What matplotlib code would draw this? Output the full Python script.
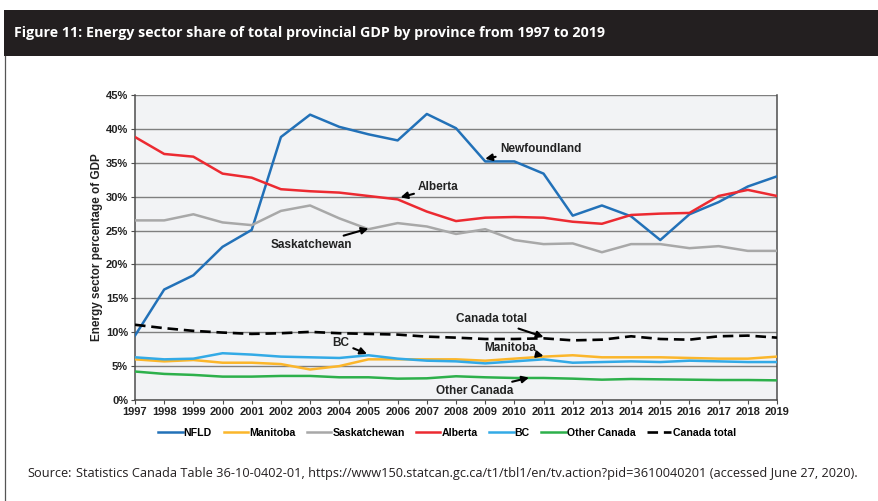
import matplotlib
matplotlib.use('Agg')
import matplotlib.pyplot as plt
from matplotlib.patches import Rectangle
from matplotlib.lines import Line2D

# Energy sector share of provincial GDP (%)
years = list(range(1997, 2020))
nfld = [9.5, 16.3, 18.4, 22.6, 25.1, 38.8, 42.1, 40.3, 39.2, 38.3, 42.2, 40.1,
        35.2, 35.2, 33.4, 27.2, 28.7, 27.1, 23.6, 27.4, 29.2, 31.5, 33.0]
manitoba = [6.0, 5.7, 5.9, 5.5, 5.5, 5.3, 4.5, 5.0, 6.0, 6.0, 6.0, 6.0,
            5.8, 6.1, 6.4, 6.6, 6.3, 6.3, 6.3, 6.2, 6.1, 6.1, 6.4]
saskatchewan = [26.5, 26.5, 27.4, 26.2, 25.8, 27.9, 28.7, 26.8, 25.2, 26.1, 25.6, 24.5,
                25.2, 23.6, 23.0, 23.1, 21.8, 23.0, 23.0, 22.4, 22.7, 22.0, 22.0]
alberta = [38.8, 36.3, 35.9, 33.4, 32.8, 31.1, 30.8, 30.6, 30.1, 29.6, 27.8, 26.4,
           26.9, 27.0, 26.9, 26.3, 26.0, 27.3, 27.5, 27.6, 30.1, 31.0, 30.1]
bc = [6.3, 6.0, 6.1, 6.9, 6.7, 6.4, 6.3, 6.2, 6.6, 6.1, 5.8, 5.7,
      5.4, 5.7, 6.0, 5.5, 5.6, 5.7, 5.6, 5.8, 5.7, 5.6, 5.6]
other_canada = [4.2, 3.85, 3.7, 3.45, 3.45, 3.55, 3.55, 3.35, 3.35, 3.15, 3.2, 3.5,
                3.35, 3.25, 3.25, 3.15, 3.0, 3.1, 3.05, 3.0, 2.95, 2.95, 2.9]
canada_total = [11.1, 10.6, 10.2, 9.95, 9.75, 9.85, 10.05, 9.85, 9.75, 9.65, 9.35, 9.2,
                9.0, 9.0, 9.1, 8.8, 8.9, 9.4, 9.0, 8.9, 9.4, 9.5, 9.2]

series = [
    ('NFLD', nfld, '#2271b8', '-'),
    ('Manitoba', manitoba, '#fbb62b', '-'),
    ('Saskatchewan', saskatchewan, '#a8a8a8', '-'),
    ('Alberta', alberta, '#ec2a31', '-'),
    ('BC', bc, '#33aae6', '-'),
    ('Other Canada', other_canada, '#2db04b', '-'),
]

# (label, text position, arrow target, horizontal alignment)
callouts = [
    ('Newfoundland', (2009.5, 37.1), (2009.0, 35.6), 'left'),
    ('Alberta', (2006.7, 31.4), (2006.1, 29.9), 'left'),
    ('Saskatchewan', (2004.45, 22.9), (2005.0, 25.3), 'right'),
    ('Canada total', (2009.2, 11.9), (2011.0, 9.3), 'center'),
    ('BC', (2004.05, 8.4), (2004.95, 6.8), 'center'),
    ('Manitoba', (2009.85, 7.65), (2011.0, 6.5), 'center'),
    ('Other Canada', (2008.65, 1.35), (2010.5, 3.3), 'center'),
]

W, H = 879, 501
fig = plt.figure(figsize=(W / 100, H / 100), dpi=100, facecolor='white')

# dark title bar and box outline
fig.patches.append(Rectangle((4 / W, 1 - 56 / H), 1, 46 / H, transform=fig.transFigure,
                             facecolor='#231f20', edgecolor='none', zorder=0))
fig.add_artist(Line2D([5 / W, 5 / W], [0, 1 - 56 / H], color='#555555', lw=0.9))
narrow = ['Liberation Sans Narrow', 'Open Sans', 'DejaVu Sans']
fig.text(14 / W, 1 - 33 / H, 'Figure 11: Energy sector share of total provincial GDP by province from 1997 to 2019',
         color='white', fontsize=10.3, fontweight='bold', family=narrow, va='center', ha='left')

ax = fig.add_axes([135 / W, 1 - 400 / H, (777 - 135) / W, (400 - 95) / H])
ax.set_facecolor('#f2f3f5')

for name, vals, col, ls in series:
    ax.plot(years, vals, color=col, lw=1.8, ls=ls, label=name, zorder=3)
ax.plot(years, canada_total, color='black', lw=1.9, ls=(0, (4, 2.2)), label='Canada total', zorder=4)

ax.set_xlim(1997, 2019)
ax.set_ylim(0, 45)
ax.set_xticks(years)
ax.set_yticks(range(0, 50, 5))
ax.set_yticklabels(['%d%%' % v for v in range(0, 50, 5)])
ax.yaxis.grid(True, color='#7f7f7f', lw=1.0)
ax.set_axisbelow(True)
for s in ['left', 'bottom', 'right']:
    ax.spines[s].set_color('#4d4d4d')
    ax.spines[s].set_linewidth(1.1)
ax.spines['top'].set_visible(False)
ax.tick_params(axis='both', direction='out', length=3, color='#4d4d4d', labelsize=8, pad=2)
for lab in ax.get_xticklabels() + ax.get_yticklabels():
    lab.set_fontweight('bold')
    lab.set_family('Liberation Sans')
    lab.set_color('#222222')
ax.set_ylabel('Energy sector percentage of GDP', fontsize=8.5, fontweight='bold',
              family='Liberation Sans', color='#222222', labelpad=2)

for text, xytext, xy, ha in callouts:
    ax.annotate(text, xy=xy, xytext=xytext, ha=ha, va='center', fontsize=8.5,
                fontweight='bold', family='Liberation Sans', color='#222222', zorder=6,
                arrowprops=dict(arrowstyle='-|>', color='black', lw=1.5, mutation_scale=10,
                                shrinkA=1, shrinkB=0))

leg = fig.legend(loc='center', bbox_to_anchor=(447 / W, 1 - 433 / H), ncol=7, frameon=False,
                 handlelength=2.3, handletextpad=0.1, columnspacing=1.1,
                 prop={'family': 'Liberation Sans', 'weight': 'bold', 'size': 7.6})

fig.text(27 / W, 1 - 477 / H, 'Source:', fontsize=9.2, family=narrow, color='#231f20', va='baseline')
fig.text(76 / W, 1 - 477 / H,
         'Statistics Canada Table 36-10-0402-01, https://www150.statcan.gc.ca/t1/tbl1/en/tv.action?pid=3610040201 (accessed June 27, 2020).',
         fontsize=9.2, family=narrow, color='#231f20', va='baseline')

fig.savefig('out.png', dpi=100, facecolor='white')
